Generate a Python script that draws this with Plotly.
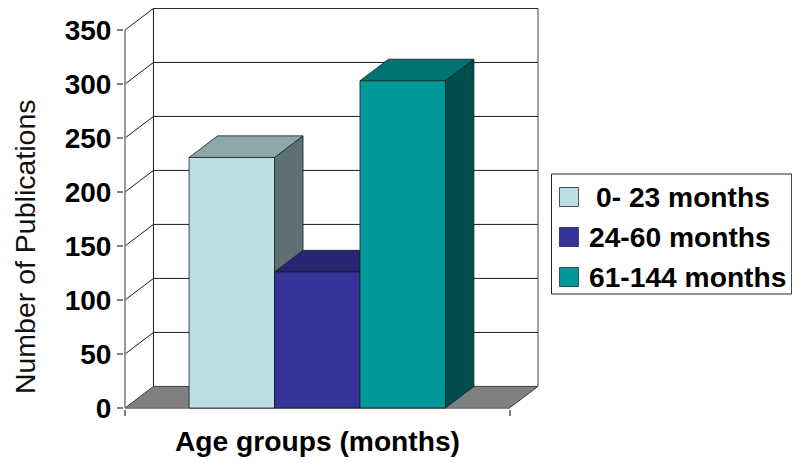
import plotly.graph_objects as go

# data
age_groups = ["0- 23 months", "24-60 months", "61-144 months"]
publications = [232, 126, 303]
y_ticks = [0, 50, 100, 150, 200, 250, 300, 350]

front_colors = ["#BBE0E3", "#333399", "#009999"]
top_colors = ["#8CA8AA", "#262673", "#007373"]
side_colors = ["#5E7072", "#1A1A4D", "#004D4D"]
bar_x = [1.25, 2.25, 3.25]
legend_text_px = [594.5, 587.5, 587.5]
legend_y_px = [197, 237, 277]

# fake 3D depth, in axis units
dx = 1 / 3
dy = 20
x_end = 4.5
y_max = 350
FONT = "Liberation Sans"
GREY = "#808080"
EDGE = "#1c1c1c"

# the page adds an 8px body margin, so the figure is 8px smaller than the window
PAGE = 8
W, H = 792, 455
L, R, T, B = 116, 260.5, 0, 54
plot_w = W - L - R
plot_h = H - T - B
pad_x = 1 / 85.5   # 1px of room so the edge lines are not clipped
pad_y = 1 / 1.08


# pixel position in the window -> paper coordinates
def px(x):
    return (x - PAGE - L) / plot_w


def py(y):
    return (H - B - (y - PAGE)) / plot_h


def poly(points, fill, line=EDGE, width=0.8):
    path = "M " + " L ".join(f"{a},{b}" for a, b in points) + " Z"
    return dict(type="path", path=path, xref="x", yref="y", fillcolor=fill,
                line=dict(color=line, width=width), layer="below")


def seg(x0, y0, x1, y1, color=EDGE, width=1):
    return dict(type="line", x0=x0, y0=y0, x1=x1, y1=y1, xref="x", yref="y",
                line=dict(color=color, width=width), layer="below")


shapes = []

# floor
shapes.append(poly([(0, 0), (x_end, 0), (x_end + dx, dy), (dx, dy)], GREY, width=0.8))

# walls and grid
shapes.append(seg(dx, dy, dx, y_max + dy))
shapes.append(seg(x_end + dx, dy, x_end + dx, y_max + dy, GREY, 1.5))
for v in y_ticks[1:]:
    shapes.append(seg(0, v, dx, v + dy))
    shapes.append(seg(dx, v + dy, x_end + dx, v + dy))

# axis lines
shapes.append(seg(0, 0, 0, y_max, GREY, 1.6))
shapes.append(seg(0, 0, x_end, 0, GREY, 1.6))

# sides and tops of the bars, fronts come from the bar traces
for i, v in enumerate(publications):
    x0 = bar_x[i] - 0.5
    x1 = bar_x[i] + 0.5
    shapes.append(poly([(x1, 0), (x1 + dx, dy), (x1 + dx, v + dy), (x1, v)], side_colors[i]))
    shapes.append(poly([(x0, v), (x1, v), (x1 + dx, v + dy), (x0 + dx, v + dy)], top_colors[i]))

fig = go.Figure()
for i, name in enumerate(age_groups):
    fig.add_trace(go.Bar(
        x=[bar_x[i]], y=[publications[i]], width=1, name=name,
        marker=dict(color=front_colors[i], line=dict(color=EDGE, width=0.8)),
        showlegend=False,
    ))

# legend box
shapes.append(dict(type="rect", xref="paper", yref="paper", x0=px(552), x1=px(792.5),
                   y0=py(294), y1=py(174), fillcolor="white",
                   line=dict(color="#222222", width=1)))
annotations = []
for i, name in enumerate(age_groups):
    yc = legend_y_px[i]
    shapes.append(dict(type="rect", xref="paper", yref="paper", x0=px(560), x1=px(579),
                       y0=py(yc + 9.5), y1=py(yc - 9.5), fillcolor=front_colors[i],
                       line=dict(color="#2a2a2a", width=0.8)))
    annotations.append(dict(text=f"<b>{name}</b>", xref="paper", yref="paper",
                            x=px(legend_text_px[i]), y=py(yc), xanchor="left", yanchor="middle",
                            showarrow=False, font=dict(family=FONT, size=28.2, color="black")))

annotations.append(dict(text="<b>Age groups (months)</b>", xref="paper", yref="paper",
                        x=px(318), y=py(441), xanchor="center", yanchor="middle",
                        showarrow=False, font=dict(family=FONT, size=28.2, color="black")))
# the box of this text must stay inside the figure or it gets cut
annotations.append(dict(text="Number of Publications", xref="paper", yref="paper",
                        x=px(25), y=py(247), xanchor="center", yanchor="middle", textangle=-90,
                        showarrow=False, font=dict(family=FONT, size=28.5, color="#111111")))

fig.update_layout(
    width=W, height=H, autosize=False,
    margin=dict(l=L, r=R, t=T, b=B),
    paper_bgcolor="white", plot_bgcolor="white",
    barmode="overlay", shapes=shapes, annotations=annotations,
    xaxis=dict(range=[-pad_x, x_end + dx + pad_x], tickmode="array", tickvals=[0, x_end],
               ticktext=["", ""], ticks="outside", ticklen=6, tickcolor=GREY, tickwidth=1.5,
               showgrid=False, zeroline=False, showline=False),
    yaxis=dict(range=[-pad_y, y_max + dy + 0.4], tickmode="array", tickvals=y_ticks,
               ticks="outside", ticklen=6, tickcolor=GREY, tickwidth=1.5,
               tickfont=dict(family=FONT, size=28, color="black", weight="bold"),
               showgrid=False, zeroline=False, showline=False),
)

fig.write_html("out.html")
